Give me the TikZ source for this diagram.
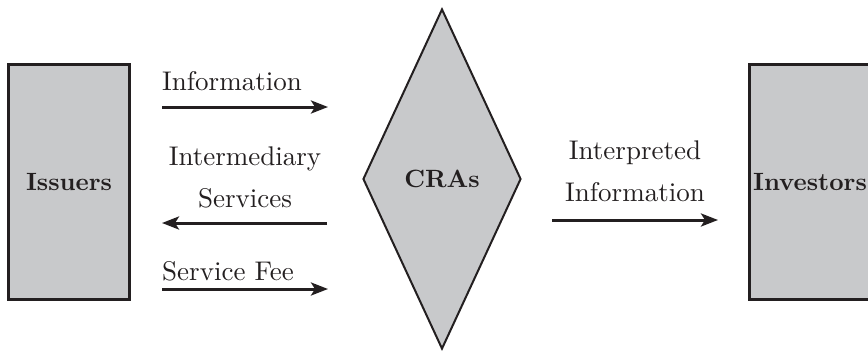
\documentclass[tikz,border=0pt]{standalone}
\usepackage{fontspec}
\setmainfont{lmroman10-regular.otf}[BoldFont=lmroman10-bold.otf]
\usetikzlibrary{shapes.geometric,arrows.meta}
\definecolor{boxgray}{HTML}{C8C9CB}
\definecolor{ink}{HTML}{231F20}
\begin{document}
\begin{tikzpicture}[x=1pt,y=-1pt,
  party/.style={draw=ink,line width=3pt,fill=boxgray,minimum width=121pt,
    minimum height=235pt,inner sep=0pt,text=ink,
    font=\fontsize{25}{30}\selectfont\bfseries},
  agency/.style={diamond,draw=ink,line width=2pt,fill=boxgray,
    minimum width=158pt,minimum height=340pt,inner sep=0pt,text=ink,
    font=\fontsize{25}{30}\selectfont\bfseries},
  flow/.style={draw=ink,line width=3pt,
    -{Stealth[length=17pt,width=13pt,inset=4pt]}},
  lbl/.style={inner sep=0pt,text=ink,font=\fontsize{27}{42}\selectfont,
    align=center}]
  % page area; the investor box runs off the right edge
  \useasboundingbox (0,0) rectangle (868,356);
  \clip (0,0) rectangle (868,356);

  % the three parties
  \node[party] (iss) at (69,182) {Issuers};
  \node[agency] (cra) at (442,179) {CRAs};
  \node[party] (inv) at (810,182) {Investors};

  % arrow end points
  \coordinate (infoS) at (162,107);
  \coordinate (infoE) at (328,107);
  \coordinate (servS) at (327,223);
  \coordinate (servE) at (162,223);
  \coordinate (feeS) at (162,289);
  \coordinate (feeE) at (328,289);
  \coordinate (intS) at (552,220);
  \coordinate (intE) at (718,220);

  % flows between issuers, agencies and investors
  \draw[flow] (infoS) -- (infoE);
  \draw[flow] (servS) -- (servE);
  \draw[flow] (feeS) -- (feeE);
  \draw[flow] (intS) -- (intE);

  % flow labels
  \node[lbl,anchor=base west] (infoT) at (162,90) {Information};
  \node[lbl,anchor=south] (servT) at (245,208) {Intermediary\\Services};
  \node[lbl,anchor=base west] (feeT) at (162,280) {Service Fee};
  \node[lbl,anchor=south] (intT) at (635,202) {Interpreted\\Information};
\end{tikzpicture}
\end{document}
